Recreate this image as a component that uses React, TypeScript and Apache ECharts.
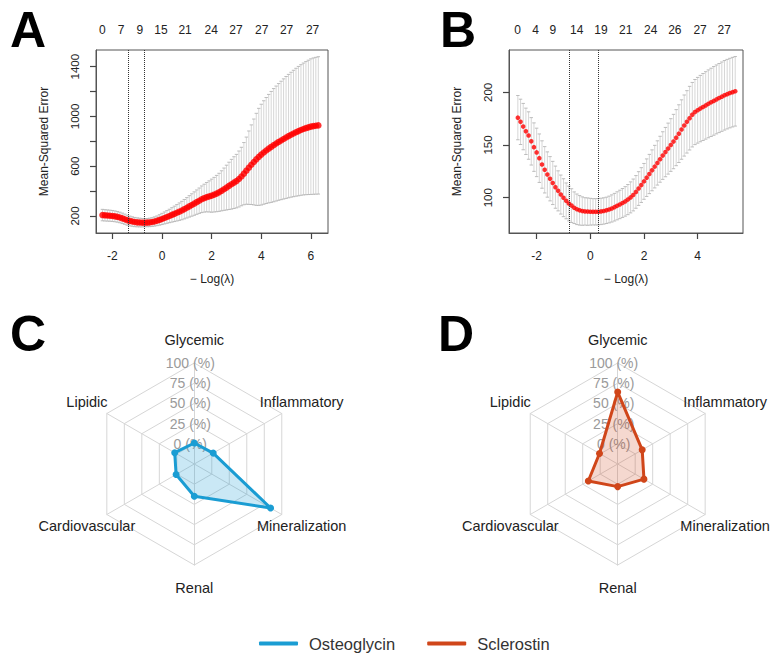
import React, { useEffect, useRef } from 'react';
import * as echarts from 'echarts';

// ---------- Panel A (Osteoglycin LASSO CV) ----------
const xStartA = -2.4;
const xStepA = 0.1;
const meanA = [
  207, 205, 203.5, 202, 200, 197, 193, 188, 181, 174,
  166, 160, 155, 151, 148.5, 147, 146, 146, 146.5, 148,
  151, 155.5, 161, 168, 176, 184, 192, 200, 208.5, 217,
  225.5, 234.5, 243.5, 254.5, 265.5, 277, 288, 299.5, 311, 322.5,
  334, 343, 351, 357, 363, 371, 380, 390, 402, 415,
  428, 442, 455, 468, 480, 497, 517, 540, 564, 588,
  612, 634, 655, 675, 693, 710, 726, 741, 755, 769,
  782, 795, 807, 819, 831, 842, 853, 863, 873, 882,
  891, 899, 906, 912, 918, 922, 925, 928,
];
const sdA = [
  46, 45.5, 45, 44.5, 44, 43.5, 43, 42.5, 42, 41,
  40, 39, 38, 37, 36, 35, 34, 33, 33, 34,
  35, 37, 39, 42, 45, 48, 51, 54, 58, 62,
  66, 70, 74, 78, 82, 86, 90, 94, 98, 102,
  107, 112, 118, 125, 133, 139, 146, 153, 161, 170,
  180, 190, 200, 208, 215, 225, 235, 250, 270, 295,
  320, 345, 370, 390, 405, 416, 426, 436, 446, 455,
  462, 469, 476, 483, 490, 496, 502, 508, 514, 520,
  525, 530, 535, 540, 545, 548, 550, 552,
];
const vlinesA = [-1.35, -0.72];
const topPosA = [-2.4, -1.65, -0.89, -0.04, 0.93, 1.98, 2.98, 4.02, 5.02, 6.07];
const topLabA = ['0', '7', '9', '15', '21', '24', '27', '27', '27', '27'];
const xTicksA = [-2, 0, 2, 4, 6];
const yTicksA = [200, 400, 600, 800, 1000, 1200, 1400];
const yLabelsA = [200, 600, 1000, 1400];

// ---------- Panel B (Sclerostin LASSO CV) ----------
const xStartB = -2.7;
const xStepB = 0.1;
const meanB = [
  176, 172, 167.5, 163, 159, 153.5, 148, 143,
  137.5, 131.5, 126.5, 122, 118, 114, 110, 106.5, 103, 100,
  97, 94.5, 92.5, 90.5, 89, 88, 87.3, 87, 86.8, 86.7,
  86.6, 86.6, 86.7, 87, 87.4, 88, 88.8, 89.8, 91, 92.3,
  93.6, 95, 96.5, 98.2, 100.3, 102.6, 105.5, 108.7, 112, 115.5,
  119, 122.5, 126, 129.5, 133, 136.5, 140, 143.3, 146.6, 150,
  153.3, 157, 160.8, 164.7, 168.5, 172, 175.5, 178.8, 181.3, 183,
  184.6, 186.1, 187.6, 189.1, 190.5, 191.9, 193.3, 194.6, 195.9, 197.2,
  198.3, 199.3, 200.2, 201,
];
const sdB = [
  21, 21.5, 22, 22, 22.5, 22.5, 23, 23,
  23, 22.5, 22, 21.5, 21, 20.5, 20, 19, 18.5, 18,
  17, 16.5, 16, 15, 14.5, 14, 13.5, 13, 13, 12.7,
  12.5, 12.5, 12.5, 12.5, 12.5, 12.5, 12.7, 12.9, 13.1, 13.3,
  13.5, 13.7, 14, 14.3, 14.7, 15.1, 15.5, 16, 16.5, 17,
  17.8, 18.6, 19.4, 20.2, 21, 21.8, 22.6, 23.4, 24.2, 25,
  25.8, 26.6, 27.4, 28.2, 29, 29.6, 30.2, 30.6, 30.9, 31.2,
  31.5, 31.8, 32, 32.2, 32.4, 32.6, 32.7, 32.8, 32.9, 33,
  33, 33, 33, 33,
];
const vlinesB = [-0.79, 0.31];
const topPosB = [-2.71, -2.04, -1.4, -0.51, 0.4, 1.32, 2.25, 3.15, 4.09, 4.99];
const topLabB = ['0', '4', '9', '14', '19', '21', '24', '26', '27', '27'];
const xTicksB = [-2, 0, 2, 4];
const yTicksB = [100, 150, 200];

// ---------- Panels C / D (radar) ----------
const domains = ['Glycemic', 'Inflammatory', 'Mineralization', 'Renal', 'Cardiovascular', 'Lipidic'];
const osteoglycin = [1, 2, 84, 15, 1, 3];
const sclerostin = [64, 10, 12.5, 3, 17, 1];
const seriesNames = ['Osteoglycin', 'Sclerostin'];
const panelLetters = ['A', 'B', 'C', 'D'];

const FONT = 'Liberation Sans';
const BLUE = '#1b9dd3';
const ORANGE = '#d0461a';
const AXIS_COLOR = '#555';
const TICK_COLOR = '#444';

// ECharts radar runs counter-clockwise; reference runs clockwise from top.
const toCCW = <T,>(arr: T[]): T[] => [arr[0], ...arr.slice(1).reverse()];

function buildPoints(start: number, step: number, mean: number[], sd: number[]) {
  return mean.map((m, i) => [Number((start + i * step).toFixed(3)), m, sd[i]]);
}

const errorBarItem = (params: any, api: any) => {
  const x = api.value(0);
  const m = api.value(1);
  const s = api.value(2);
  const hi = api.coord([x, m + s]);
  const lo = api.coord([x, m - s]);
  const w = 1.7;
  const style = { stroke: '#cbcbcb', lineWidth: 0.8 };
  const cap = { stroke: '#b5b5b5', lineWidth: 0.9 };
  return {
    type: 'group',
    children: [
      { type: 'line', shape: { x1: hi[0], y1: hi[1], x2: lo[0], y2: lo[1] }, style },
      { type: 'line', shape: { x1: hi[0] - w, y1: hi[1], x2: hi[0] + w, y2: hi[1] }, style: cap },
      { type: 'line', shape: { x1: lo[0] - w, y1: lo[1], x2: lo[0] + w, y2: lo[1] }, style: cap },
    ],
  };
};

function topAxis(gridIndex: number, min: number, max: number, pos: number[], labs: string[]) {
  return {
    type: 'value', gridIndex, position: 'top', min, max,
    axisLine: { show: false, onZero: false }, axisTick: { show: false }, splitLine: { show: false },
    axisLabel: {
      customValues: pos,
      margin: 14,
      color: '#222',
      fontSize: 12,
      fontFamily: FONT,
      formatter: (v: number) => {
        const i = pos.findIndex((p) => Math.abs(p - v) < 1e-6);
        return i >= 0 ? labs[i] : '';
      },
    },
  };
}

function bottomAxis(gridIndex: number, min: number, max: number, ticks: number[]) {
  return {
    type: 'value', gridIndex, position: 'bottom', min, max,
    name: '\u2212 Log(\u03bb)',
    nameLocation: 'middle',
    nameGap: 40,
    nameTextStyle: { color: '#222', fontSize: 12, fontFamily: FONT },
    axisLine: { show: true, onZero: false, lineStyle: { color: AXIS_COLOR, width: 1 } },
    axisTick: { show: true, customValues: ticks, length: 6, lineStyle: { color: TICK_COLOR, width: 1.2 } },
    splitLine: { show: false },
    axisLabel: { customValues: ticks, margin: 17, color: '#222', fontSize: 12, fontFamily: FONT },
  };
}

function leftAxis(gridIndex: number, min: number, max: number, ticks: number[], labels: number[]) {
  return {
    type: 'value', gridIndex, position: 'left', min, max,
    name: 'Mean-Squared Error',
    nameLocation: 'middle',
    nameRotate: 90,
    nameGap: 46,
    nameTextStyle: { color: '#222', fontSize: 12, fontFamily: FONT },
    axisLine: { show: true, onZero: false, lineStyle: { color: AXIS_COLOR, width: 1 } },
    axisTick: { show: true, customValues: ticks, length: 6, lineStyle: { color: TICK_COLOR, width: 1.2 } },
    splitLine: { show: false },
    axisLabel: {
      customValues: labels, rotate: 90, margin: 15, color: '#222', fontSize: 11.5, fontFamily: FONT,
      formatter: (v: number) => String(v),
    },
  };
}

function radarCfg(cx: number) {
  const names = toCCW(domains);
  return {
    center: [cx, 464],
    radius: 101,
    startAngle: 90,
    splitNumber: 5,
    shape: 'polygon',
    nameGap: 23,
    axisName: { color: '#222', fontSize: 14.5, fontFamily: FONT, align: 'center', verticalAlign: 'middle' },
    splitLine: { lineStyle: { color: '#d6d6d6', width: 1 } },
    splitArea: { show: false },
    axisLine: { lineStyle: { color: '#d6d6d6', width: 1 } },
    axisTick: { show: false },
    axisLabel: { show: false },
    indicator: names.map((n, i) => {
      const ind: any = { name: n, min: -25, max: 100 };
      if (i === 0) {
        ind.axisLabel = {
          show: true,
          color: '#9a9a9a',
          fontSize: 14,
          fontFamily: FONT,
          align: 'center',
          verticalAlign: 'middle',
          margin: 4,
          formatter: (v: number) => (v < 0 ? '' : `${v} (%)`),
        };
      }
      return ind;
    }),
  };
}

export default function App() {
  const ref = useRef<HTMLDivElement>(null);
  useEffect(() => {
    if (!ref.current) return;
    const chart = echarts.init(ref.current, undefined, { renderer: 'svg' });
    const xA: [number, number] = [-2.66, 6.69];
    const yA: [number, number] = [63, 1534];
    const xB: [number, number] = [-3.03, 5.69];
    const yB: [number, number] = [66.5, 240.2];
    const ptsA = buildPoints(xStartA, xStepA, meanA, sdA);
    const ptsB = buildPoints(xStartB, xStepB, meanB, sdB);

    const markLines = (vals: number[]) => ({
      silent: true,
      symbol: 'none',
      label: { show: false },
      lineStyle: { type: 'dotted', color: '#333', width: 1 },
      data: vals.map((v) => ({ xAxis: v })),
    });

    const letterPos = [
      [10, 5],
      [440, 5],
      [10, 309],
      [438, 309],
    ];

    chart.setOption({
      animation: false,
      backgroundColor: '#fff',
      textStyle: { fontFamily: FONT },
      graphic: panelLetters.map((t, i) => ({
        type: 'text',
        left: letterPos[i][0],
        top: letterPos[i][1],
        style: { text: t, font: `bold 50px "${FONT}"`, fill: '#000' },
      })),
      grid: [
        { left: 96, top: 50, width: 232, height: 183, show: true, borderColor: AXIS_COLOR, borderWidth: 1, backgroundColor: 'transparent' },
        { left: 509, top: 50, width: 234, height: 183, show: true, borderColor: AXIS_COLOR, borderWidth: 1, backgroundColor: 'transparent' },
      ],
      xAxis: [
        bottomAxis(0, xA[0], xA[1], xTicksA),
        topAxis(0, xA[0], xA[1], topPosA, topLabA),
        bottomAxis(1, xB[0], xB[1], xTicksB),
        topAxis(1, xB[0], xB[1], topPosB, topLabB),
      ],
      yAxis: [
        leftAxis(0, yA[0], yA[1], yTicksA, yLabelsA),
        leftAxis(1, yB[0], yB[1], yTicksB, yTicksB),
      ],
      radar: [radarCfg(194.3), radarCfg(617.7)],
      legend: {
        data: seriesNames,
        left: 254,
        top: 630,
        icon: 'roundRect',
        itemWidth: 39,
        itemHeight: 4,
        itemGap: 32,
        textStyle: { fontSize: 16.5, color: '#333', fontFamily: FONT, padding: [0, 0, 0, 6] },
      },
      series: [
        {
          type: 'custom', xAxisIndex: 0, yAxisIndex: 0,
          renderItem: errorBarItem, encode: { x: 0, y: 1 }, data: ptsA, silent: true, z: 1,
        },
        {
          type: 'scatter', xAxisIndex: 0, yAxisIndex: 0,
          data: ptsA.map((p) => [p[0], p[1]]),
          symbolSize: 6.5, itemStyle: { color: '#ff0000' }, z: 3,
          markLine: markLines(vlinesA),
        },
        {
          type: 'custom', xAxisIndex: 2, yAxisIndex: 1,
          renderItem: errorBarItem, encode: { x: 0, y: 1 }, data: ptsB, silent: true, z: 1,
        },
        {
          type: 'scatter', xAxisIndex: 2, yAxisIndex: 1,
          data: ptsB.map((p) => [p[0], p[1]]),
          symbolSize: 4.6, itemStyle: { color: '#ff0000' }, z: 3,
          markLine: markLines(vlinesB),
        },
        {
          type: 'radar', radarIndex: 0, name: seriesNames[0],
          symbol: 'circle', symbolSize: 7,
          lineStyle: { width: 3, color: BLUE },
          itemStyle: { color: BLUE },
          areaStyle: { color: 'rgba(27,157,211,0.33)' },
          data: [{ name: seriesNames[0], value: toCCW(osteoglycin) }],
        },
        {
          type: 'radar', radarIndex: 1, name: seriesNames[1],
          symbol: 'circle', symbolSize: 7,
          lineStyle: { width: 3, color: ORANGE },
          itemStyle: { color: ORANGE },
          areaStyle: { color: 'rgba(208,70,26,0.3)' },
          data: [{ name: seriesNames[1], value: toCCW(sclerostin) }],
        },
      ],
    });
    return () => chart.dispose();
  }, []);
  return (
    <div
      ref={ref}
      style={{ position: 'absolute', left: 0, top: 0, width: 779, height: 661, background: '#fff' }}
    />
  );
}
